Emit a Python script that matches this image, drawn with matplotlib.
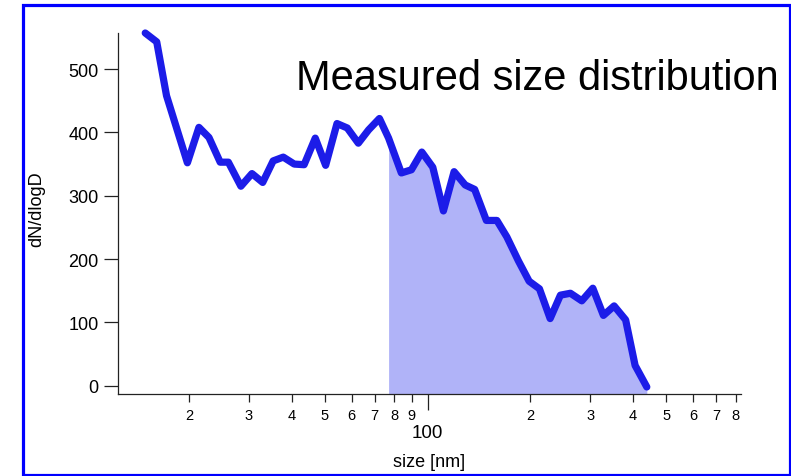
import matplotlib
matplotlib.use("Agg")
import matplotlib.pyplot as plt
from matplotlib.patches import Rectangle
from matplotlib.ticker import FixedLocator, FixedFormatter

plt.rcParams['font.family'] = ['Liberation Sans', 'DejaVu Sans']

# data
size_nm = [14.9, 16.1, 17.2, 19.8, 21.4, 22.9, 24.7, 26.1, 28.4, 30.6,
           32.9, 35.3, 37.8, 40.7, 43.5, 46.9, 50.3, 54.3, 58.2, 62.7,
           67.2, 72.3, 76.9, 83.8, 89.7, 96.2, 103.6, 111.3, 119.6, 128.9,
           137.4, 148.7, 159.6, 170.7, 184.6, 198.4, 212.7, 228.6, 245.0, 262.1,
           283.0, 304.8, 327.4, 351.9, 380.3, 405.4, 438.7]
dn_dlogd = [557, 543, 458, 352, 408, 392, 353, 353, 315, 335,
            321, 355, 361, 350, 349, 391, 348, 414, 407, 383,
            404, 422, 391, 336, 341, 369, 345, 276, 338, 317,
            310, 261, 261, 235, 197, 165, 153, 106, 143, 146,
            134, 154, 111, 126, 104, 32, -2]
fill_start_index = 22  # shaded region starts here

major_ticks = [100]
major_labels = ["100"]
minor_ticks = [20, 30, 40, 50, 60, 70, 80, 90, 200, 300, 400, 500, 600, 700, 800]
minor_labels = ["2", "3", "4", "5", "6", "7", "8", "9", "2", "3", "4", "5", "6", "7", "8"]
y_ticks = [0, 100, 200, 300, 400, 500]

W, H = 791, 477
fig = plt.figure(figsize=(W / 100, H / 100), dpi=100)
ax = fig.add_axes([118 / W, (H - 395) / H, (741 - 118) / W, (395 - 34) / H])

ax.set_xscale('log')
ax.set_xlim(12.4, 828)
ax.set_ylim(-13.1, 557)

xs = size_nm[fill_start_index:]
ys = dn_dlogd[fill_start_index:]
ax.fill_between(xs, ys, -13.1, color='#b0b3f8', linewidth=0, zorder=1)
ax.plot(size_nm, dn_dlogd, color='#1c1ce8', linewidth=5.2,
        solid_joinstyle='round', solid_capstyle='round', zorder=3, clip_on=False)

for s in ['top', 'right']:
    ax.spines[s].set_visible(False)
for s in ['left', 'bottom']:
    ax.spines[s].set_linewidth(0.9)
    ax.spines[s].set_color('#222222')

ax.xaxis.set_major_locator(FixedLocator(major_ticks))
ax.xaxis.set_major_formatter(FixedFormatter(major_labels))
ax.xaxis.set_minor_locator(FixedLocator(minor_ticks))
ax.xaxis.set_minor_formatter(FixedFormatter(minor_labels))
ax.tick_params(axis='x', which='major', length=11.5, width=0.9, pad=10,
               labelsize=13.5, color='#222222')
ax.tick_params(axis='x', which='minor', length=6, width=0.9, pad=4,
               labelsize=10.5, color='#222222')

ax.set_yticks(y_ticks)
ax.tick_params(axis='y', which='major', length=10, width=0.9, pad=4,
               labelsize=13, color='#222222')

ax.set_xlabel('size [nm]', fontsize=13, labelpad=9)
ax.set_ylabel('dN/dlogD', fontsize=13)
ax.yaxis.set_label_coords((45 - 118) / 623, (395 - 209) / 361)

fig.text(296 / W, 1 - 90 / H, 'Measured size distribution', fontsize=30,
         ha='left', va='baseline')

fig.patches.append(Rectangle((22.5 / W, 1.5 / H), (789.5 - 22.5) / W, (475.5 - 5.5) / H,
                             transform=fig.transFigure, fill=False,
                             edgecolor='#0000ff', linewidth=2.3, zorder=10))

fig.savefig('out.png', dpi=100)
